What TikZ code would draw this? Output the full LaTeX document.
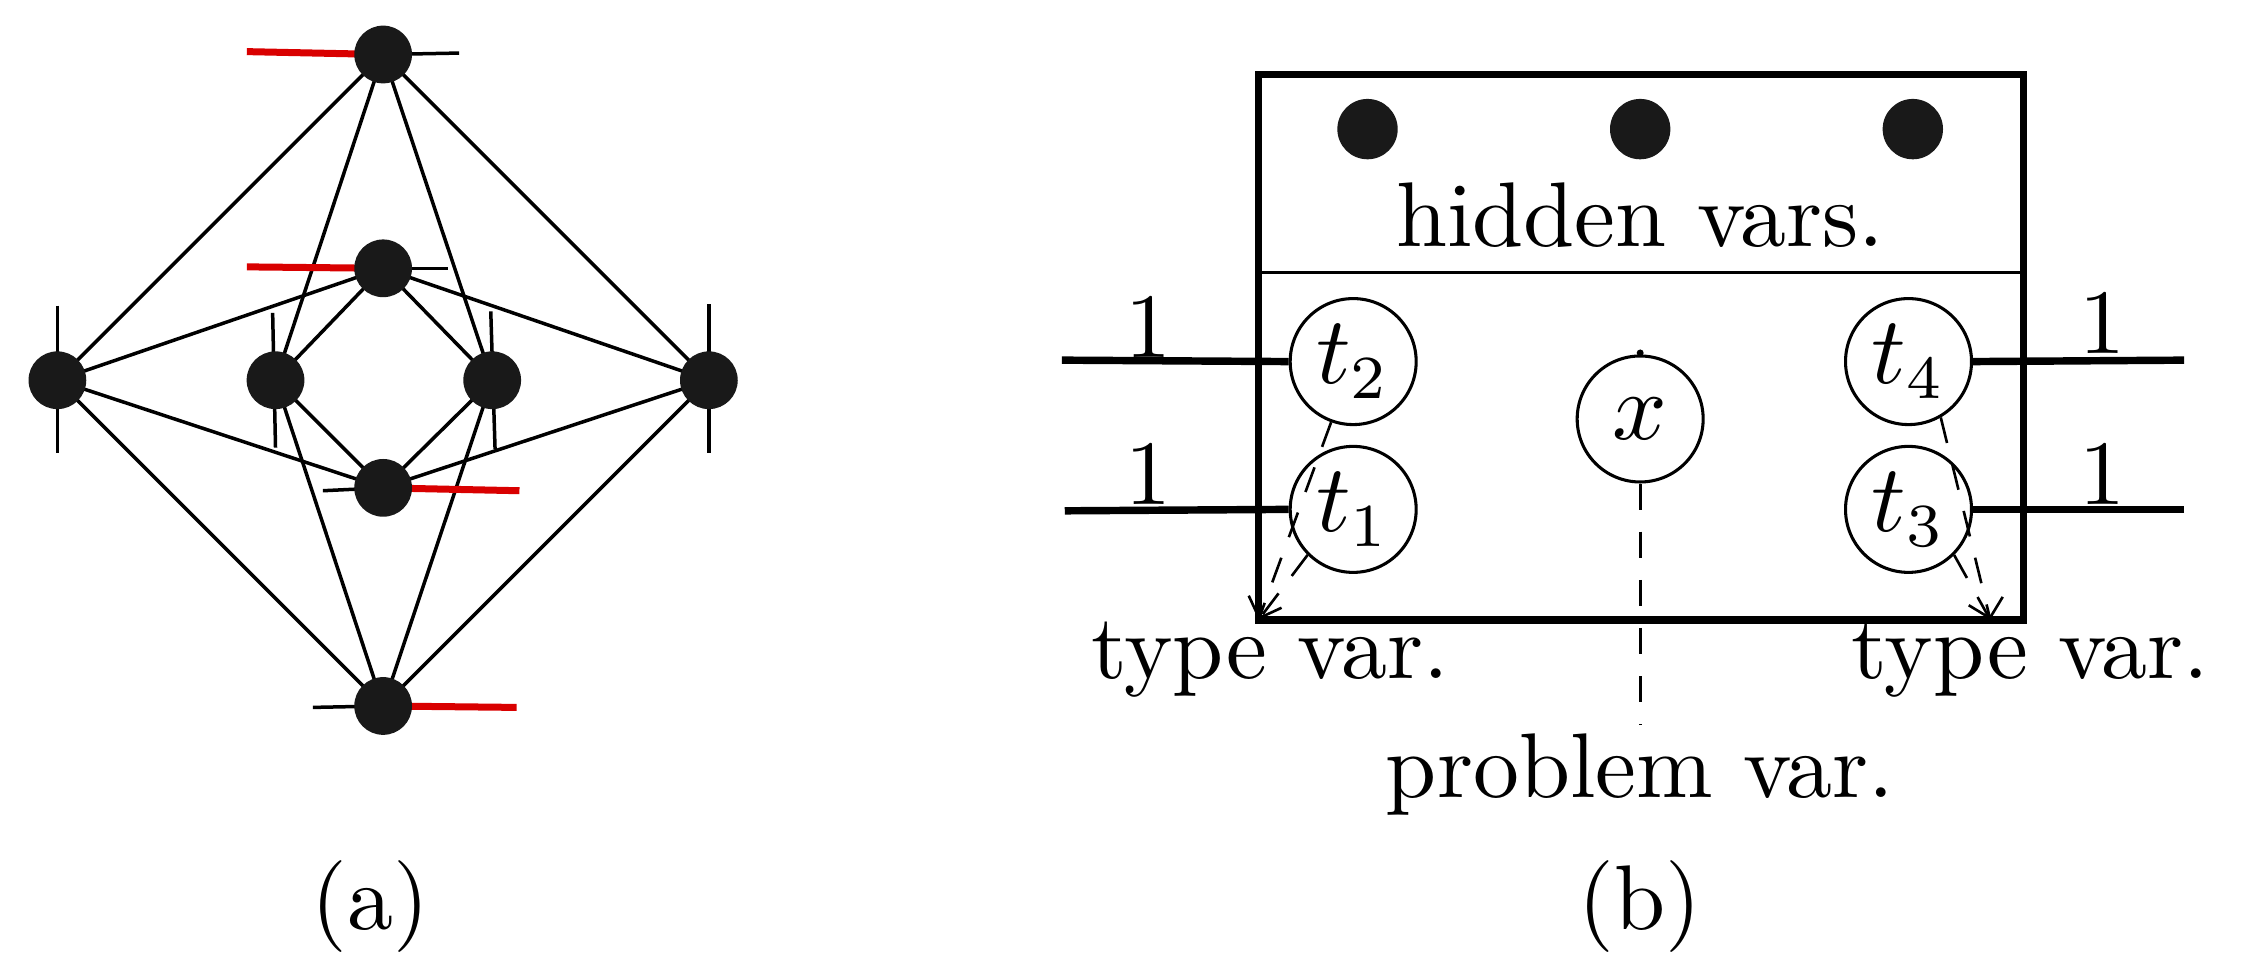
\documentclass[tikz,border=0pt]{standalone}
\usetikzlibrary{arrows.meta}
\begin{document}
\begin{tikzpicture}[x=0.164pt,y=-0.164pt,font=\fontsize{10.5}{12}\selectfont,
 dot/.style={circle,fill=black!90,minimum size=6.6pt,inner sep=0},
 hdot/.style={circle,fill=black!90,minimum size=6.9pt,inner sep=0},
 edge/.style={line width=0.4pt},
 tick/.style={line width=0.4pt},
 redstub/.style={line width=0.8pt,red!85!black},
 var/.style={circle,draw,line width=0.35pt,minimum size=14.4pt,inner sep=0},
 thick/.style={line width=0.85pt},
 dsh/.style={dashed,line width=0.3pt,dash pattern=on 3pt off 2.5pt}]
\useasboundingbox (0,0) rectangle (1568,680);
% panel (a)
\coordinate (p0) at (267,38);
\coordinate (p1) at (267,187);
\coordinate (p2) at (40,265);
\coordinate (p3) at (192,265);
\coordinate (p4) at (343,265);
\coordinate (p5) at (494,265);
\coordinate (p6) at (267,340);
\coordinate (p7) at (267,492);
\foreach \a in {p0,p1,p6,p7}{\foreach \b in {p2,p3,p4,p5}{\draw[edge] (\a) -- (\b);}}
% stubs
\coordinate (s0) at (172,36); \coordinate (s0b) at (320,37);
\coordinate (s1) at (172,186); \coordinate (s1b) at (312,187);
\coordinate (s6) at (362,342); \coordinate (s6b) at (225,342);
\coordinate (s7) at (360,493); \coordinate (s7b) at (218,493);
\draw[redstub] (s0) -- (p0); \draw[tick] (p0) -- (s0b);
\draw[redstub] (s1) -- (p1); \draw[tick] (p1) -- (s1b);
\draw[redstub] (s6) -- (p6); \draw[tick] (p6) -- (s6b);
\draw[redstub] (s7) -- (p7); \draw[tick] (p7) -- (s7b);
\coordinate (u2) at (40,213); \coordinate (d2) at (40,316);
\coordinate (u3) at (190,218); \coordinate (d3) at (192,312);
\coordinate (u4) at (342,217); \coordinate (d4) at (345,313);
\coordinate (u5) at (494,212); \coordinate (d5) at (494,316);
\foreach \n in {2,3,4,5}{\draw[tick] (u\n) -- (d\n);}
\foreach \n in {p0,p1,p2,p3,p4,p5,p6,p7}{\node[dot] (n\n) at (\n) {};}
\node (la) at (258,632) {(a)};
% panel (b)
\coordinate (bl) at (877,52); \coordinate (br) at (1410,432);
\draw[thick] (bl) rectangle (br);
\coordinate (ml) at (877,190); \coordinate (mr) at (1410,190);
\draw[line width=0.4pt] (ml) -- (mr);
\node[hdot] (h1) at (953,90) {};
\node[hdot] (h2) at (1143,90) {};
\node[hdot] (h3) at (1333,90) {};
\node (hv) at (1143,150) {hidden vars.};
\node[var] (t2) at (943,252) {$t_2$};
\node[var] (t1) at (943,355) {$t_1$};
\node[var] (x) at (1143,292) {$x$};
\node[var] (t4) at (1330,252) {$t_4$};
\node[var] (t3) at (1330,355) {$t_3$};
\coordinate (l2) at (740,251); \coordinate (l1) at (742,356);
\coordinate (r4) at (1522,251); \coordinate (r3) at (1522,355);
\draw[thick] (l2) -- (t2.west); \draw[thick] (l1) -- (t1.west);
\draw[thick] (r4) -- (t4.east); \draw[thick] (r3) -- (t3.east);
\node (o2) at (800,228) {1}; \node (o1) at (800,330) {1};
\node (o4) at (1465,225) {1}; \node (o3) at (1465,330) {1};
\coordinate (cl) at (877,432); \coordinate (cr) at (1387,432);
\draw[dsh,-{Straight Barb[length=2pt]}] (t2.250) -- (cl);
\draw[dsh] (t1.225) -- (cl);
\draw[dsh,-{Straight Barb[length=2pt]}] (t4.300) -- (cr);
\draw[dsh] (t3.315) -- (cr);
\coordinate (xe) at (1143,505); \coordinate (xt) at (1143,246);
\draw[dsh] (x.south) -- (xe);
\fill (xt) circle[radius=0.4pt];
\node (tv1) at (885,460) {type var.};
\node (tv2) at (1415,460) {type var.};
\node (pv) at (1143,540) {problem var.};
\node (lb) at (1143,632) {(b)};
\end{tikzpicture}
\end{document}
